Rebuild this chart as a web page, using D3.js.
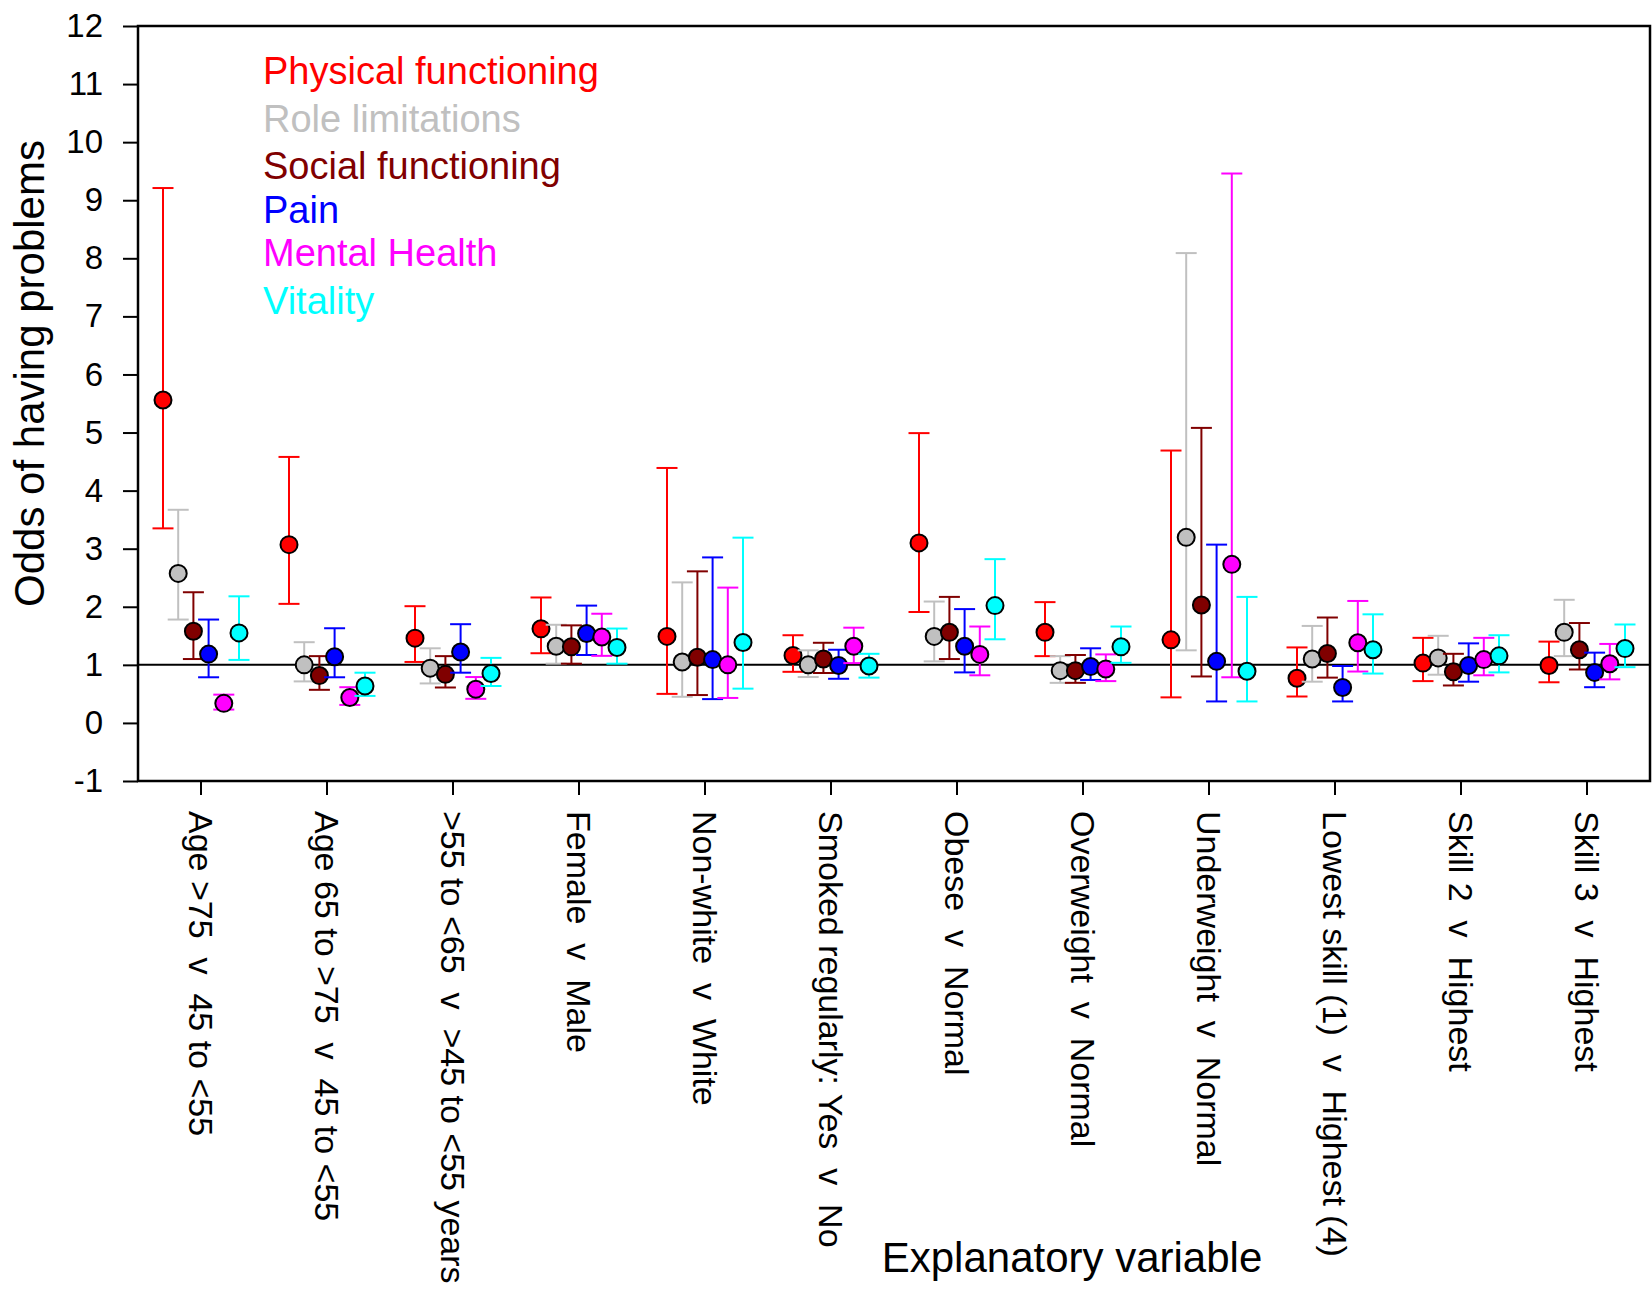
<!DOCTYPE html>
<html>
<head>
<meta charset="utf-8">
<script src="https://cdnjs.cloudflare.com/ajax/libs/d3/7.8.5/d3.min.js"></script>
<style>
body { margin: 0; background: #fff; }
svg text { font-family: Arial, "Liberation Sans", sans-serif; }
</style>
</head>
<body>
<svg id="chart"></svg>
<script>
"use strict";

var categories = [
    "Age >75  v  45 to <55",
    "Age 65 to >75  v  45 to <55",
    ">55 to <65  v  >45 to <55 years",
    "Female  v  Male",
    "Non-white  v  White",
    "Smoked regularly: Yes  v  No",
    "Obese  v  Normal",
    "Overweight  v  Normal",
    "Underweight  v  Normal",
    "Lowest skill (1)  v  Highest (4)",
    "Skill 2  v  Highest",
    "Skill 3  v  Highest"
];

var seriesNames = ["Physical functioning", "Role limitations", "Social functioning", "Pain", "Mental Health", "Vitality"];
var seriesColors = ["#ff0000", "#c0c0c0", "#800000", "#0000ff", "#ff00ff", "#00ffff"];

var yTicks = [-1, 0, 1, 2, 3, 4, 5, 6, 7, 8, 9, 10, 11, 12];

// odds ratios with lower / upper limits, one entry per category
var physical     = [5.56, 3.07, 1.46, 1.62, 1.49, 1.16, 3.10, 1.56, 1.43, 0.77, 1.03, 0.99];
var physicalLow  = [3.35, 2.05, 1.05, 1.20, 0.50, 0.88, 1.91, 1.15, 0.44, 0.455, 0.72, 0.70];
var physicalHigh = [9.21, 4.58, 2.01, 2.16, 4.39, 1.51, 4.99, 2.08, 4.69, 1.30, 1.465, 1.40];

var role     = [2.575, 1.00, 0.943, 1.32, 1.05, 1.00, 1.49, 0.90, 3.195, 1.10, 1.12, 1.56];
var roleLow  = [1.78, 0.715, 0.68, 1.02, 0.45, 0.79, 1.06, 0.69, 1.25, 0.71, 0.83, 1.15];
var roleHigh = [3.67, 1.39, 1.285, 1.69, 2.42, 1.25, 2.09, 1.15, 8.09, 1.67, 1.50, 2.12];

var social     = [1.58, 0.815, 0.836, 1.31, 1.13, 1.10, 1.56, 0.90, 2.03, 1.195, 0.88, 1.26];
var socialLow  = [1.10, 0.57, 0.61, 1.02, 0.48, 0.86, 1.10, 0.69, 0.80, 0.78, 0.645, 0.92];
var socialHigh = [2.25, 1.15, 1.15, 1.68, 2.61, 1.38, 2.17, 1.17, 5.08, 1.815, 1.19, 1.72];

var pain     = [1.185, 1.14, 1.22, 1.54, 1.09, 0.99, 1.32, 0.97, 1.06, 0.61, 0.99, 0.87];
var painLow  = [0.786, 0.786, 0.865, 1.17, 0.41, 0.76, 0.87, 0.74, 0.37, 0.37, 0.71, 0.615];
var painHigh = [1.78, 1.63, 1.70, 2.02, 2.85, 1.26, 1.96, 1.285, 3.07, 0.98, 1.37, 1.21];

var mental     = [0.337, 0.437, 0.58, 1.48, 1.00, 1.32, 1.18, 0.93, 2.73, 1.38, 1.09, 1.02];
var mentalLow  = [0.23, 0.31, 0.415, 1.155, 0.43, 1.03, 0.82, 0.72, 0.786, 0.885, 0.82, 0.75];
var mentalHigh = [0.487, 0.615, 0.79, 1.88, 2.33, 1.64, 1.66, 1.18, 9.46, 2.10, 1.465, 1.36];

var vitality     = [1.55, 0.636, 0.85, 1.30, 1.385, 0.98, 2.02, 1.31, 0.89, 1.26, 1.155, 1.28];
var vitalityLow  = [1.085, 0.465, 0.636, 1.02, 0.59, 0.78, 1.44, 1.035, 0.37, 0.85, 0.87, 0.96];
var vitalityHigh = [2.18, 0.865, 1.12, 1.625, 3.19, 1.19, 2.82, 1.66, 2.17, 1.87, 1.51, 1.695];

var seriesValues = [
    [physical, physicalLow, physicalHigh],
    [role, roleLow, roleHigh],
    [social, socialLow, socialHigh],
    [pain, painLow, painHigh],
    [mental, mentalLow, mentalHigh],
    [vitality, vitalityLow, vitalityHigh]
];

var Width = 1652,
    Height = 1295,
    PlotLeft = 138,
    PlotRight = 1650,
    PlotTop = 26,
    PlotBottom = 781,
    CapHalf = 10.5,
    Radius = 8.5,
    legendY = [84, 132, 179, 223, 265.5, 314];

var series = seriesNames.map(function (name, s) {
    return {
        name: name,
        color: seriesColors[s],
        points: categories.map(function (c, i) {
            return { cat: c, v: seriesValues[s][0][i], lo: seriesValues[s][1][i], hi: seriesValues[s][2][i] };
        })
    };
});

var x = d3.scaleBand().domain(categories).range([PlotLeft, PlotRight]);
var y = d3.scaleLinear().domain([-1, 12]).range([PlotBottom, PlotTop]);
var offset = d3.scalePoint().domain(seriesNames).range([-38, 38]);

var svg = d3.select("#chart")
    .attr("width", Width)
    .attr("height", Height);

// y axis (plain hyphen for negative ticks, like the original)
var yAxis = svg.append("g")
    .attr("transform", "translate(" + PlotLeft + ",0)")
    .call(d3.axisLeft(y).tickValues(yTicks).tickSize(15).tickPadding(20)
        .tickFormat(function (d) { return String(d); }));
yAxis.select(".domain").remove();
yAxis.selectAll("line").attr("stroke-width", 2);
yAxis.selectAll("text").attr("font-size", 33).attr("font-family", "Arial, 'Liberation Sans', sans-serif").attr("fill", "#000");

// x axis ticks
var xAxis = svg.append("g")
    .attr("transform", "translate(0," + PlotBottom + ")")
    .call(d3.axisBottom(x).tickSize(14).tickFormat(""));
xAxis.select(".domain").remove();
xAxis.selectAll("line").attr("stroke-width", 2);

// category labels, rotated
svg.append("g")
    .selectAll("text")
    .data(categories)
    .enter()
    .append("text")
    .attr("transform", function (d) { return "translate(" + (x(d) + x.bandwidth() / 2) + ",811) rotate(90)"; })
    .attr("dy", "0.35em")
    .attr("font-size", 34)
    .style("white-space", "pre")
    .text(function (d) { return d; });

// frame
svg.append("rect")
    .attr("x", PlotLeft)
    .attr("y", PlotTop)
    .attr("width", PlotRight - PlotLeft)
    .attr("height", PlotBottom - PlotTop)
    .attr("fill", "none")
    .attr("stroke", "#000")
    .attr("stroke-width", 2.5);

// reference line at 1
svg.append("line")
    .attr("x1", PlotLeft)
    .attr("x2", PlotRight)
    .attr("y1", y(1))
    .attr("y2", y(1))
    .attr("stroke", "#000")
    .attr("stroke-width", 2);

// error bars and points, one series at a time
series.forEach(function (s) {
    var g = svg.append("g").attr("class", "series");
    var cx = function (d) { return x(d.cat) + x.bandwidth() / 2 + offset(s.name); };

    var bar = g.selectAll(".bar")
        .data(s.points)
        .enter()
        .append("g")
        .attr("class", "bar")
        .attr("stroke", s.color)
        .attr("stroke-width", 2);

    bar.append("line")
        .attr("x1", cx).attr("x2", cx)
        .attr("y1", function (d) { return y(d.lo); })
        .attr("y2", function (d) { return y(d.hi); });
    bar.append("line")
        .attr("x1", function (d) { return cx(d) - CapHalf; })
        .attr("x2", function (d) { return cx(d) + CapHalf; })
        .attr("y1", function (d) { return y(d.hi); })
        .attr("y2", function (d) { return y(d.hi); });
    bar.append("line")
        .attr("x1", function (d) { return cx(d) - CapHalf; })
        .attr("x2", function (d) { return cx(d) + CapHalf; })
        .attr("y1", function (d) { return y(d.lo); })
        .attr("y2", function (d) { return y(d.lo); });

    g.selectAll("circle")
        .data(s.points)
        .enter()
        .append("circle")
        .attr("cx", cx)
        .attr("cy", function (d) { return y(d.v); })
        .attr("r", Radius)
        .attr("fill", s.color)
        .attr("stroke", "#000")
        .attr("stroke-width", 2);
});

// legend
svg.append("g")
    .selectAll("text")
    .data(series)
    .enter()
    .append("text")
    .attr("x", 263)
    .attr("y", function (d, i) { return legendY[i]; })
    .attr("font-size", 38)
    .attr("fill", function (d) { return d.color; })
    .text(function (d) { return d.name; });

// axis titles
svg.append("text")
    .attr("transform", "translate(44," + ((PlotTop + PlotBottom) / 2 - 30) + ") rotate(-90)")
    .attr("text-anchor", "middle")
    .attr("font-size", 42)
    .text("Odds of having problems");

svg.append("text")
    .attr("x", 1072)
    .attr("y", 1272)
    .attr("text-anchor", "middle")
    .attr("font-size", 42)
    .text("Explanatory variable");
</script>
</body>
</html>
